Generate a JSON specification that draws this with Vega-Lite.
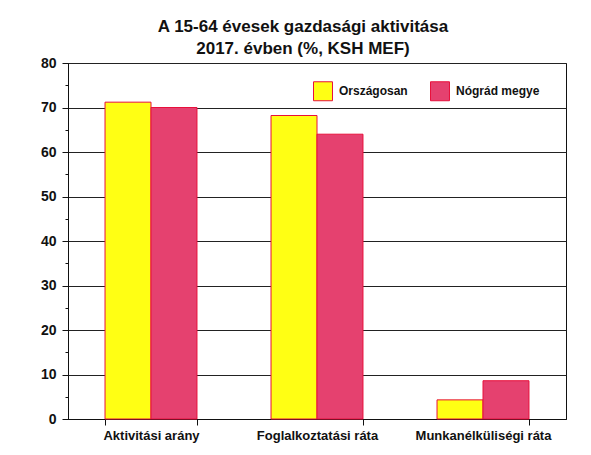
{
  "$schema": "https://vega.github.io/schema/vega-lite/v6.json",
  "autosize": "none",
  "width": 498,
  "height": 356,
  "padding": {"left": 68, "top": 63, "right": 25, "bottom": 36},
  "background": "white",
  "title": {
    "text": ["A 15-64 évesek gazdasági aktivitása", "2017. évben (%, KSH MEF)"],
    "font": "Liberation Sans",
    "fontSize": 17,
    "fontWeight": "bold",
    "color": "#111111",
    "anchor": "middle",
    "frame": "group",
    "dx": -14,
    "offset": -2,
    "lineHeight": 22
  },
  "data": {
    "values": [
      {"kategoria": "Aktivitási arány", "terulet": "Országosan", "ertek": 71.2},
      {"kategoria": "Aktivitási arány", "terulet": "Nógrád megye", "ertek": 70.0},
      {"kategoria": "Foglalkoztatási ráta", "terulet": "Országosan", "ertek": 68.2},
      {"kategoria": "Foglalkoztatási ráta", "terulet": "Nógrád megye", "ertek": 64.0},
      {"kategoria": "Munkanélküliségi ráta", "terulet": "Országosan", "ertek": 4.3},
      {"kategoria": "Munkanélküliségi ráta", "terulet": "Nógrád megye", "ertek": 8.6}
    ]
  },
  "mark": {"type": "bar", "stroke": "#E8103C", "strokeWidth": 1},
  "encoding": {
    "x": {
      "field": "kategoria",
      "type": "nominal",
      "sort": null,
      "title": null,
      "scale": {"paddingInner": 0.446, "paddingOuter": 0.223},
      "axis": {
        "labelAngle": 0,
        "tickBand": "extent",
        "tickSize": 6,
        "tickColor": "#111111",
        "domainColor": "#111111",
        "labelFont": "Liberation Sans",
        "labelFontSize": 13,
        "labelFontWeight": "bold",
        "labelColor": "#111111",
        "labelPadding": 4,
        "grid": false
      }
    },
    "xOffset": {"field": "terulet", "type": "nominal", "sort": ["Országosan", "Nógrád megye"]},
    "y": {
      "field": "ertek",
      "type": "quantitative",
      "title": null,
      "scale": {"domain": [0, 80], "nice": false},
      "axis": {
        "values": [0, 5, 10, 15, 20, 25, 30, 35, 40, 45, 50, 55, 60, 65, 70, 75, 80],
        "labelExpr": "datum.value % 10 == 0 ? datum.label : ''",
        "grid": true,
        "gridColor": "#222222",
        "gridOpacity": {"condition": {"test": "datum.value % 10 == 0", "value": 1}, "value": 0},
        "gridWidth": 1,
        "tickSize": {"condition": {"test": "datum.value % 10 == 0", "value": 6}, "value": 3},
        "tickColor": "#111111",
        "domainColor": "#111111",
        "labelFont": "Liberation Sans",
        "labelFontSize": 14,
        "labelFontWeight": "bold",
        "labelColor": "#111111",
        "labelPadding": 6
      }
    },
    "color": {
      "field": "terulet",
      "type": "nominal",
      "sort": ["Országosan", "Nógrád megye"],
      "scale": {"domain": ["Országosan", "Nógrád megye"], "range": ["#FFFF14", "#E5416F"]},
      "legend": {
        "title": null,
        "orient": "none",
        "legendX": 245,
        "legendY": 18,
        "direction": "horizontal",
        "symbolType": "square",
        "symbolSize": 360,
        "symbolStrokeColor": "#E8103C",
        "symbolStrokeWidth": 1,
        "symbolOpacity": 1,
        "labelFont": "Liberation Sans",
        "labelFontSize": 12,
        "labelFontWeight": "bold",
        "labelColor": "#111111",
        "labelOffset": 6,
        "columnPadding": 20
      }
    }
  },
  "config": {
    "view": {"stroke": "#111111", "strokeWidth": 1}
  }
}
